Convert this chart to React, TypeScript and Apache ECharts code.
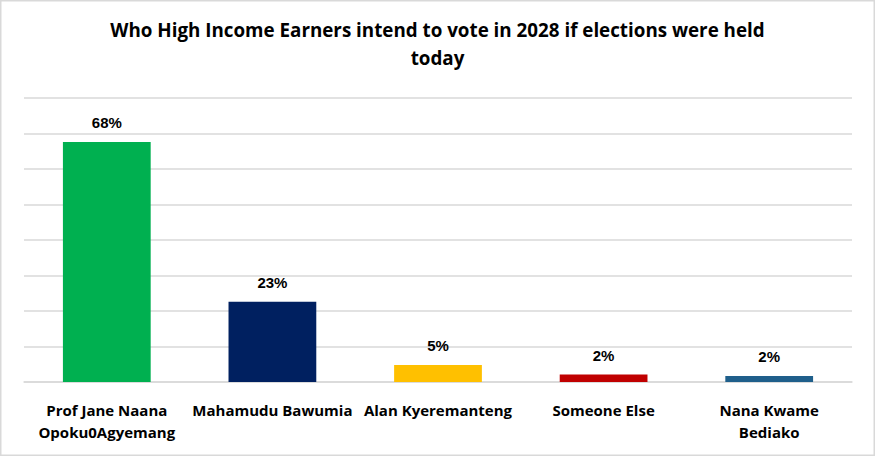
import { useEffect, useRef } from 'react';
import * as echarts from 'echarts';

// candidates, with line breaks as they wrap under the axis
const categories = [
  'Prof Jane Naana\nOpoku0Agyemang',
  'Mahamudu Bawumia',
  'Alan Kyeremanteng',
  'Someone Else',
  'Nana Kwame\nBediako',
];
const values = [67.6, 22.6, 4.8, 2.1, 1.7];
const barColors = ['#00B050', '#002060', '#FFC000', '#C00000', '#1F5F8B'];

const TITLE = 'Who High Income Earners intend to vote in 2028 if elections were held\ntoday';
const FONT = 'Open Sans';

export default function App() {
  const chartRef = useRef<HTMLDivElement>(null);

  useEffect(() => {
    document.body.style.margin = '0';
    if (!chartRef.current) return;
    const chart = echarts.init(chartRef.current, null, { renderer: 'svg' });

    chart.setOption({
      animation: false,
      backgroundColor: '#ffffff',
      title: {
        text: TITLE,
        left: 'center',
        top: 11,
        textStyle: {
          fontFamily: FONT,
          fontWeight: 'bold',
          fontSize: 18.8,
          lineHeight: 28,
          color: '#000000',
        },
      },
      graphic: [
        {
          type: 'rect',
          shape: { x: 0.75, y: 0.75, width: 873.5, height: 454.5 },
          style: { fill: 'none', stroke: '#d9d9d9', lineWidth: 1.5 },
          silent: true,
        },
      ],
      grid: {
        left: 24,
        right: 23,
        top: 98,
        bottom: 74,
      },
      xAxis: {
        type: 'category',
        data: categories,
        axisLine: { lineStyle: { color: '#d9d9d9', width: 1.5 } },
        axisTick: { show: false },
        axisLabel: {
          interval: 0,
          margin: 17,
          fontFamily: FONT,
          fontWeight: 'bold',
          fontSize: 15,
          lineHeight: 22,
          color: '#000000',
        },
      },
      yAxis: {
        type: 'value',
        min: 0,
        max: 80,
        interval: 10,
        axisLabel: { show: false },
        axisLine: { show: false },
        axisTick: { show: false },
        splitLine: { lineStyle: { color: '#d9d9d9', width: 1.5 } },
      },
      series: [
        {
          type: 'bar',
          barWidth: '53%',
          data: values.map((v, i) => ({ value: v, itemStyle: { color: barColors[i] } })),
          label: {
            show: true,
            position: 'top',
            distance: 12,
            fontFamily: 'Liberation Sans',
            fontWeight: 'bold',
            fontSize: 15,
            color: '#000000',
            formatter: (p: { value: number }) => `${Math.round(p.value)}%`,
          },
        },
      ],
    });

    return () => {
      chart.dispose();
    };
  }, []);

  return <div ref={chartRef} style={{ width: 875, height: 456 }} />;
}
